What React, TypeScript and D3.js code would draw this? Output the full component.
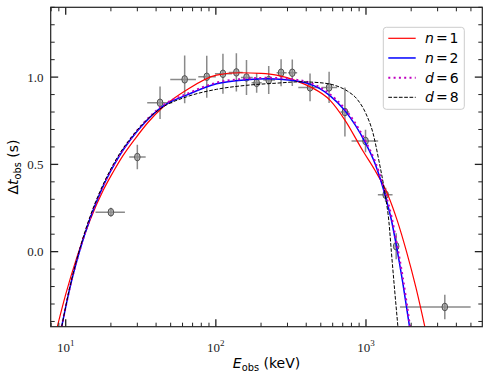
import React from 'react';
import * as d3 from 'd3';

const W = 500;
const H = 378;
const M = { left: 50.7, right: 482.3, top: 7.3, bottom: 326.7 };

const xDomain: [number, number] = [7.945, 5953];
const yDomain: [number, number] = [-0.43, 1.4];

// Observed data
const obsE = [20, 30, 42.5, 62, 87, 111.5, 137, 160, 187, 225, 272, 323, 424, 568, 724, 993, 1352, 1589, 3350];
const obsV = [0.226, 0.542, 0.853, 0.987, 1.002, 1.019, 1.027, 0.998, 0.967, 0.983, 1.025, 1.025, 0.941, 0.941, 0.8, 0.634, 0.326, 0.031, -0.317];
const obsELow = [15.8, 26.5, 34.9, 49.7, 76.4, 98.6, 122, 147, 173, 207, 254, 303, 354, 506, 676, 801, 1200, 1550, 1683];
const obsEHigh = [24.8, 34.1, 51.3, 73.7, 100, 128, 151, 176, 202, 248, 296, 348, 493, 643, 772, 1205, 1503, 1630, 4977];
const obsVErr = [0.025, 0.07, 0.093, 0.137, 0.12, 0.115, 0.11, 0.1, 0.057, 0.08, 0.078, 0.076, 0.08, 0.09, 0.14, 0.065, 0.04, 0.075, 0.07];

// Model curves
const n1E = [8.79, 10, 11.89, 14.52, 17.81, 20.66, 24.07, 28.9, 35.3, 44.7, 63.8, 101, 145, 200, 254, 340, 424, 575, 724, 957, 1150, 1400, 1620, 1862, 2150, 2466];
const n1V = [-0.43, -0.245, -0.03, 0.18, 0.353, 0.455, 0.55, 0.645, 0.74, 0.83, 0.926, 1.011, 1.025, 1.021, 1.011, 0.98, 0.945, 0.868, 0.754, 0.575, 0.465, 0.325, 0.175, 0.0, -0.205, -0.43];

const n2E = [9.405, 10.68, 12.45, 14.52, 16.93, 19.74, 23.0, 27.2, 33.7, 44.7, 63.8, 101, 160, 220, 281, 424, 575, 724, 993, 1150, 1352, 1480, 1589, 1760, 1950];
const n2V = [-0.43, -0.205, 0.011, 0.189, 0.335, 0.455, 0.555, 0.645, 0.74, 0.835, 0.897, 0.962, 0.985, 0.99, 0.987, 0.96, 0.894, 0.808, 0.622, 0.504, 0.312, 0.177, 0.04, -0.18, -0.43];

const d6E = [9.405, 10.68, 12.45, 14.52, 16.93, 19.74, 23.0, 27.2, 33.7, 44.7, 63.8, 101, 160, 220, 281, 424, 575, 724, 993, 1150, 1352, 1480, 1589, 1760, 1965];
const d6V = [-0.43, -0.203, 0.013, 0.192, 0.338, 0.458, 0.558, 0.649, 0.745, 0.84, 0.903, 0.968, 0.991, 0.996, 0.993, 0.967, 0.902, 0.818, 0.633, 0.516, 0.33, 0.2, 0.065, -0.15, -0.43];

const d8E = [9.405, 10.68, 12.45, 14.52, 16.93, 19.74, 23.0, 27.2, 33.7, 44.7, 63.8, 101, 160, 250, 363, 493, 625, 752, 874, 1000, 1113, 1220, 1317, 1358, 1422, 1476, 1552, 1632];
const d8V = [-0.43, -0.2, 0.02, 0.2, 0.345, 0.465, 0.565, 0.652, 0.745, 0.83, 0.887, 0.93, 0.953, 0.965, 0.973, 0.968, 0.952, 0.92, 0.873, 0.79, 0.68, 0.52, 0.37, 0.3, 0.17, 0.0, -0.22, -0.43];

const xMajorTicks = [10, 100, 1000];
const xTickExps = ['1', '2', '3'];
const yMajorTicks = [0, 0.5, 1.0];
const yTickLabels = ['0.0', '0.5', '1.0'];

const legendItems = [
  { sym: 'n', num: '1', color: '#ff0000', width: 1.2, dash: '' },
  { sym: 'n', num: '2', color: '#0000ff', width: 1.5, dash: '' },
  { sym: 'd', num: '6', color: '#bf00bf', width: 2, dash: '2 3.3' },
  { sym: 'd', num: '8', color: '#000000', width: 1, dash: '3.7 1.6' },
];

const SERIF = '"Liberation Serif", "Times New Roman", serif';
const SANS = '"DejaVu Sans", sans-serif';

export default function App() {
  const x = d3.scaleLog().domain(xDomain).range([M.left, M.right]);
  const y = d3.scaleLinear().domain(yDomain).range([M.bottom, M.top]);
  const line = d3
    .line<[number, number]>()
    .x((d) => x(d[0]))
    .y((d) => y(d[1]))
    .curve(d3.curveMonotoneX);

  const zip = (a: number[], b: number[]) => a.map((v, i) => [v, b[i]] as [number, number]);

  const curves = [
    { data: zip(n1E, n1V), ...legendItems[0] },
    { data: zip(n2E, n2V), ...legendItems[1] },
    { data: zip(d6E, d6V), ...legendItems[2] },
    { data: zip(d8E, d8V), ...legendItems[3] },
  ];

  const xMinor: number[] = [];
  for (let k = 0; k <= 3; k++) {
    for (let m = 2; m <= 9; m++) {
      const v = m * Math.pow(10, k);
      if (v >= xDomain[0] && v <= xDomain[1]) xMinor.push(v);
    }
  }
  const yMinor: number[] = [];
  for (let i = -4; i <= 14; i++) {
    const v = i / 10;
    if (i % 5 !== 0 && v >= yDomain[0] && v <= yDomain[1]) yMinor.push(v);
  }

  const majLen = 7.5;
  const minLen = 4;
  const axisColor = '#222';

  const legX0 = 383.3;
  const legY0 = 27.3;
  const legW = 81;
  const legH = 82;
  const rowY = (i: number) => legY0 + 11 + i * 19.67;

  return (
    <svg
      width={W}
      height={H}
      style={{ position: 'absolute', left: 0, top: 0, background: '#fff' }}
      xmlns="http://www.w3.org/2000/svg"
    >
      <defs>
        <clipPath id="plotclip">
          <rect x={M.left} y={M.top} width={M.right - M.left} height={M.bottom - M.top} />
        </clipPath>
      </defs>
      <rect x={0} y={0} width={W} height={H} fill="#fff" />

      {/* data */}
      <g clipPath="url(#plotclip)">
        {obsE.map((e, i) => (
          <g key={'eb' + i} stroke="#8a8a8a" strokeWidth={1.5}>
            <line x1={x(obsELow[i])} x2={x(obsEHigh[i])} y1={y(obsV[i])} y2={y(obsV[i])} />
            <line x1={x(e)} x2={x(e)} y1={y(obsV[i] - obsVErr[i])} y2={y(obsV[i] + obsVErr[i])} />
          </g>
        ))}
        {obsE.map((e, i) => (
          <ellipse
            key={'mk' + i}
            cx={x(e)}
            cy={y(obsV[i])}
            rx={2.8}
            ry={3.8}
            fill="#909090"
            fillOpacity={0.6}
            stroke="#505050"
            strokeWidth={1}
          />
        ))}
      </g>

      {/* curves */}
      <g clipPath="url(#plotclip)" fill="none">
        {curves.map((c, i) => (
          <path
            key={'c' + i}
            d={line(c.data) || ''}
            stroke={c.color}
            strokeWidth={c.width}
            strokeDasharray={c.dash || undefined}
          />
        ))}
      </g>

      {/* ticks */}
      <g stroke={axisColor}>
        {xMajorTicks.map((t, i) => (
          <g key={'xM' + i} strokeWidth={1.3}>
            <line x1={x(t)} x2={x(t)} y1={M.bottom} y2={M.bottom - majLen} />
            <line x1={x(t)} x2={x(t)} y1={M.top} y2={M.top + majLen} />
          </g>
        ))}
        {xMinor.map((t, i) => (
          <g key={'xm' + i} strokeWidth={1}>
            <line x1={x(t)} x2={x(t)} y1={M.bottom} y2={M.bottom - minLen} />
            <line x1={x(t)} x2={x(t)} y1={M.top} y2={M.top + minLen} />
          </g>
        ))}
        {yMajorTicks.map((t, i) => (
          <g key={'yM' + i} strokeWidth={1.3}>
            <line x1={M.left} x2={M.left + majLen} y1={y(t)} y2={y(t)} />
            <line x1={M.right} x2={M.right - majLen} y1={y(t)} y2={y(t)} />
          </g>
        ))}
        {yMinor.map((t, i) => (
          <g key={'ym' + i} strokeWidth={1}>
            <line x1={M.left} x2={M.left + minLen} y1={y(t)} y2={y(t)} />
            <line x1={M.right} x2={M.right - minLen} y1={y(t)} y2={y(t)} />
          </g>
        ))}
      </g>

      {/* spines */}
      <rect
        x={M.left}
        y={M.top}
        width={M.right - M.left}
        height={M.bottom - M.top}
        fill="none"
        stroke={axisColor}
        strokeWidth={1.2}
      />

      {/* tick labels */}
      <g fontFamily={SERIF} fill="#222">
        {xMajorTicks.map((t, i) => (
          <text key={'xl' + i} x={x(t)} y={352} textAnchor="middle" fontSize={13}>
            10
            <tspan fontSize={9} dy={-6}>
              {xTickExps[i]}
            </tspan>
          </text>
        ))}
        {yMajorTicks.map((t, i) => (
          <text key={'yl' + i} x={43.5} y={y(t) + 4.5} textAnchor="end" fontSize={13}>
            {yTickLabels[i]}
          </text>
        ))}
      </g>

      {/* axis labels */}
      <text x={(M.left + M.right) / 2} y={368} textAnchor="middle" fontFamily={SANS} fontSize={14} fill="#000">
        <tspan fontStyle="italic">E</tspan>
        <tspan fontSize={9.8} dy={3}>obs</tspan>
        <tspan dy={-3}> (keV)</tspan>
      </text>
      <text
        transform={`translate(17.5, ${(M.top + M.bottom) / 2}) rotate(-90)`}
        textAnchor="middle"
        fontFamily={SANS}
        fontSize={14}
        fill="#000"
      >
        Δ<tspan fontStyle="italic">t</tspan>
        <tspan fontSize={9.8} dy={3}>obs</tspan>
        <tspan dy={-3}> (s)</tspan>
      </text>

      {/* legend */}
      <rect
        x={legX0}
        y={legY0}
        width={legW}
        height={legH}
        rx={3}
        fill="#fff"
        fillOpacity={0.8}
        stroke="#cccccc"
        strokeWidth={1}
      />
      {legendItems.map((it, i) => (
        <g key={'lg' + i}>
          <line
            x1={388.3}
            x2={415.7}
            y1={rowY(i)}
            y2={rowY(i)}
            stroke={it.color}
            strokeWidth={it.width}
            strokeDasharray={it.dash || undefined}
          />
          <text x={425} y={rowY(i) + 5} fontFamily={SANS} fontSize={14} fill="#000">
            <tspan fontStyle="italic">{it.sym}</tspan>
            <tspan dx={2}>=</tspan>
            <tspan dx={2}>{it.num}</tspan>
          </text>
        </g>
      ))}
    </svg>
  );
}
